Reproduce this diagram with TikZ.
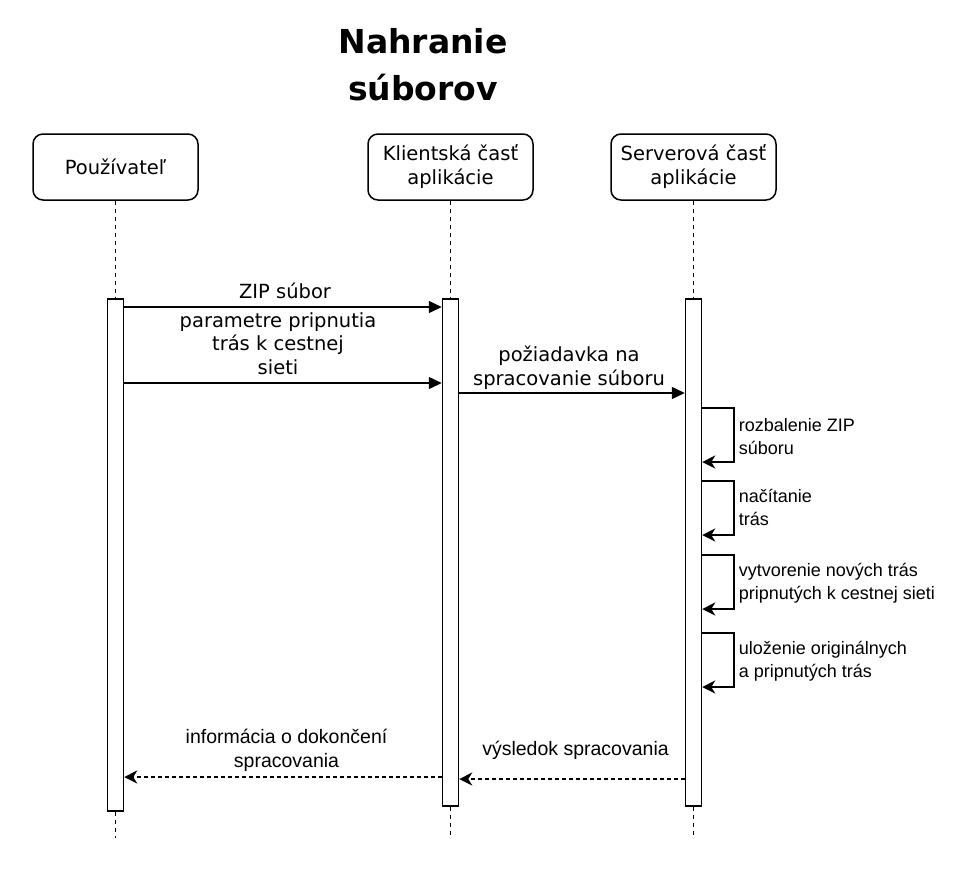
\documentclass[tikz,border=0pt]{standalone}
\usepackage{fontspec}
\setmainfont{DejaVu Sans}
\newfontfamily\arialfont{Liberation Sans}
\usetikzlibrary{arrows.meta}
\begin{document}
\begin{tikzpicture}
  [x=1pt,y=-1pt,line width=1.5pt,
   head/.style={draw,rounded corners=10pt,minimum width=165pt,minimum height=66pt,inner sep=0pt,align=center,font=\fontsize{19.5}{24}\selectfont},
   bar/.style={draw,fill=white,minimum width=16pt,inner sep=0pt},
   life/.style={line width=1.3pt,dash pattern=on 4pt off 4pt},
   msg/.style={-{Triangle[length=13pt,width=12pt]}},
   reply/.style={dash pattern=on 4pt off 3pt,-{Stealth[length=13pt,width=13pt,inset=4pt]}},
   self/.style={-{Stealth[length=13pt,width=13pt,inset=4pt]}},
   lbl/.style={anchor=base,align=center,inner sep=0pt,font=\fontsize{19.5}{23.5}\selectfont},
   note/.style={anchor=base west,align=left,inner sep=0pt,font=\arialfont\fontsize{18}{23}\selectfont}]
  \useasboundingbox (0,0) rectangle (974,871);
  \node (title)[anchor=base,align=center,font=\bfseries\fontsize{33}{47}\selectfont] at (423,100) {Nahranie\\súborov};
  \node (usr)[head] at (115.5,167) {Používateľ};
  \node (cli)[head] at (450.5,167) {Klientská časť\\aplikácie};
  \node (srv)[head] at (693.5,167) {Serverová časť\\aplikácie};
  \node (usr-bar)[bar,minimum height=512pt] at (115.5,555) {};
  \node (cli-bar)[bar,minimum height=507pt] at (450.5,552.5) {};
  \node (srv-bar)[bar,minimum height=507pt] at (693.5,552.5) {};
  \coordinate (usr-end) at (115.5,838);
  \coordinate (cli-end) at (450.5,838);
  \coordinate (srv-end) at (693.5,838);
 \foreach \n in {usr,cli,srv}
    \draw[life] (\n) -- (\n-bar) (\n-bar) -- (\n-end);
  \draw[msg] (usr-bar.east |- 0,307) -- (cli-bar.west |- 0,307);
  \node (l1)[lbl] at (285,298) {ZIP súbor};
  \draw[msg] (usr-bar.east |- 0,383) -- (cli-bar.west |- 0,383);
  \node (l2)[lbl] at (278,374) {parametre pripnutia\\trás k cestnej\\sieti};
  \draw[msg] (cli-bar.east |- 0,393) -- (srv-bar.west |- 0,393);
  \node (l3)[lbl] at (569,385) {požiadavka na\\spracovanie súboru};
 \foreach \a/\b/\y/\t in {408/462/454/{rozbalenie ZIP\\súboru},481/535/525/{načítanie\\trás},555/609/599/{vytvorenie nových trás\\pripnutých k cestnej sieti},633/687/677/{uloženie originálnych\\a pripnutých trás}}
   {\draw[self] (srv-bar.east |- 0,\a) -| (734,\b) -- (srv-bar.east |- 0,\b);
    \node (s\a)[note] at (738,\y) {\t};}
  \draw[reply] (srv-bar.west |- 0,779) -- (cli-bar.east |- 0,779);
  \node (l4)[lbl,font=\arialfont\fontsize{19.5}{24}\selectfont] at (575.5,755) {výsledok spracovania};
  \draw[reply] (cli-bar.west |- 0,777) -- (usr-bar.east |- 0,777);
  \node (l5)[lbl,font=\arialfont\fontsize{19.5}{24}\selectfont] at (286.5,767) {informácia o dokončení\\spracovania};
\end{tikzpicture}
\end{document}
